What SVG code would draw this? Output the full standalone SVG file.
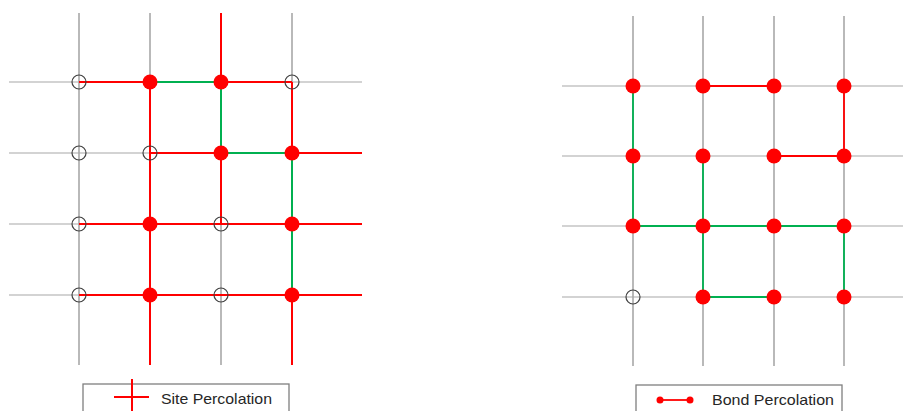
<svg xmlns="http://www.w3.org/2000/svg" width="903" height="411" viewBox="0 0 903 411">
  <style>
    .gv { stroke: #8a8a8a; stroke-width: 1.2; fill: none; }
    .gh { stroke: #a8a8a8; stroke-width: 1.2; fill: none; }
    .red { stroke: #ff0000; stroke-width: 2; fill: none; }
    .grn { stroke: #00b050; stroke-width: 2; fill: none; }
    .redb { stroke: #ff0000; stroke-width: 1.8; fill: none; }
    .grnb { stroke: #00b050; stroke-width: 1.8; fill: none; }
    .on { fill: #ff0000; }
    .off { fill: none; stroke: #404040; stroke-width: 1.2; }
    .box { fill: #ffffff; stroke: #7f7f7f; stroke-width: 1.3; }
    .lbl { font-family: "Liberation Sans", Arial, sans-serif; font-size: 15px; fill: #262626; }
  </style>

  <!-- Site percolation lattice -->
  <g id="site-grid">
    <g id="site-lattice">
      <line class="gv" x1="79" y1="13" x2="79" y2="365"/>
      <line class="gv" x1="150" y1="13" x2="150" y2="82"/>
      <line class="gv" x1="221" y1="224" x2="221" y2="365"/>
      <line class="gv" x1="292" y1="13" x2="292" y2="82"/>
      <line class="gh" x1="9" y1="82" x2="79" y2="82"/>
      <line class="gh" x1="292" y1="82" x2="362" y2="82"/>
      <line class="gh" x1="9" y1="153" x2="150" y2="153"/>
      <line class="gh" x1="9" y1="224" x2="79" y2="224"/>
      <line class="gh" x1="9" y1="295" x2="79" y2="295"/>
    </g>
    <g id="site-connectors">
      <!-- row 0 -->
      <line class="red" x1="79" y1="82" x2="150" y2="82"/>
      <line class="grn" x1="150" y1="82" x2="221" y2="82"/>
      <line class="red" x1="221" y1="82" x2="292" y2="82"/>
      <!-- row 1 -->
      <line class="red" x1="150" y1="153" x2="221" y2="153"/>
      <line class="grn" x1="221" y1="153" x2="292" y2="153"/>
      <line class="red" x1="292" y1="153" x2="362" y2="153"/>
      <!-- rows 2, 3 -->
      <line class="red" x1="79" y1="224" x2="362" y2="224"/>
      <line class="red" x1="79" y1="295" x2="362" y2="295"/>
      <!-- columns -->
      <line class="red" x1="150" y1="82" x2="150" y2="365"/>
      <line class="red" x1="221" y1="13" x2="221" y2="82"/>
      <line class="grn" x1="221" y1="82" x2="221" y2="153"/>
      <line class="red" x1="221" y1="153" x2="221" y2="224"/>
      <line class="red" x1="292" y1="82" x2="292" y2="153"/>
      <line class="grn" x1="292" y1="153" x2="292" y2="295"/>
      <line class="red" x1="292" y1="295" x2="292" y2="365"/>
    </g>
    <g id="site-nodes">
      <circle class="off" cx="79" cy="82" r="7"/>
      <circle class="on" cx="150" cy="82" r="7.5"/>
      <circle class="on" cx="221" cy="82" r="7.5"/>
      <circle class="off" cx="292" cy="82" r="7"/>
      <circle class="off" cx="79" cy="153" r="7"/>
      <circle class="off" cx="150" cy="153" r="7"/>
      <circle class="on" cx="221" cy="153" r="7.5"/>
      <circle class="on" cx="292" cy="153" r="7.5"/>
      <circle class="off" cx="79" cy="224" r="7"/>
      <circle class="on" cx="150" cy="224" r="7.5"/>
      <circle class="off" cx="221" cy="224" r="7"/>
      <circle class="on" cx="292" cy="224" r="7.5"/>
      <circle class="off" cx="79" cy="295" r="7"/>
      <circle class="on" cx="150" cy="295" r="7.5"/>
      <circle class="off" cx="221" cy="295" r="7"/>
      <circle class="on" cx="292" cy="295" r="7.5"/>
    </g>
  </g>

  <!-- Site legend -->
  <g id="site-legend">
    <rect class="box" x="83" y="384" width="206" height="40"/>
    <line class="red" x1="114" y1="397" x2="149" y2="397"/>
    <line class="red" x1="132" y1="379" x2="132" y2="411"/>
    <text class="lbl" x="161" y="404" textLength="111" lengthAdjust="spacingAndGlyphs">Site Percolation</text>
  </g>

  <!-- Bond percolation lattice -->
  <g id="bond-grid">
    <g id="bond-lattice">
      <line class="gv" x1="633" y1="16" x2="633" y2="366"/>
      <line class="gv" x1="703" y1="16" x2="703" y2="366"/>
      <line class="gv" x1="774" y1="16" x2="774" y2="366"/>
      <line class="gv" x1="844" y1="16" x2="844" y2="366"/>
      <line class="gh" x1="562" y1="86" x2="903" y2="86"/>
      <line class="gh" x1="562" y1="156" x2="903" y2="156"/>
      <line class="gh" x1="562" y1="226" x2="903" y2="226"/>
      <line class="gh" x1="562" y1="297" x2="903" y2="297"/>
    </g>
    <g id="bond-connectors">
      <line class="redb" x1="703" y1="86" x2="774" y2="86"/>
      <line class="redb" x1="844" y1="86" x2="844" y2="156"/>
      <line class="redb" x1="774" y1="156" x2="844" y2="156"/>
      <line class="grnb" x1="633" y1="86" x2="633" y2="226"/>
      <line class="grnb" x1="703" y1="156" x2="703" y2="297"/>
      <line class="grnb" x1="633" y1="226" x2="844" y2="226"/>
      <line class="grnb" x1="844" y1="226" x2="844" y2="297"/>
      <line class="grnb" x1="703" y1="297" x2="774" y2="297"/>
    </g>
    <g id="bond-nodes">
      <circle class="on" cx="633" cy="86" r="7.5"/>
      <circle class="on" cx="703" cy="86" r="7.5"/>
      <circle class="on" cx="774" cy="86" r="7.5"/>
      <circle class="on" cx="844" cy="86" r="7.5"/>
      <circle class="on" cx="633" cy="156" r="7.5"/>
      <circle class="on" cx="703" cy="156" r="7.5"/>
      <circle class="on" cx="774" cy="156" r="7.5"/>
      <circle class="on" cx="844" cy="156" r="7.5"/>
      <circle class="on" cx="633" cy="226" r="7.5"/>
      <circle class="on" cx="703" cy="226" r="7.5"/>
      <circle class="on" cx="774" cy="226" r="7.5"/>
      <circle class="on" cx="844" cy="226" r="7.5"/>
      <circle class="off" cx="633" cy="297" r="7"/>
      <circle class="on" cx="703" cy="297" r="7.5"/>
      <circle class="on" cx="774" cy="297" r="7.5"/>
      <circle class="on" cx="844" cy="297" r="7.5"/>
    </g>
  </g>

  <!-- Bond legend -->
  <g id="bond-legend">
    <rect class="box" x="636" y="385" width="206" height="40"/>
    <line class="redb" x1="660" y1="400" x2="690" y2="400"/>
    <circle class="on" cx="660" cy="400" r="3.5"/>
    <circle class="on" cx="690" cy="400" r="3.5"/>
    <text class="lbl" x="712" y="405" textLength="122" lengthAdjust="spacingAndGlyphs">Bond Percolation</text>
  </g>
</svg>
